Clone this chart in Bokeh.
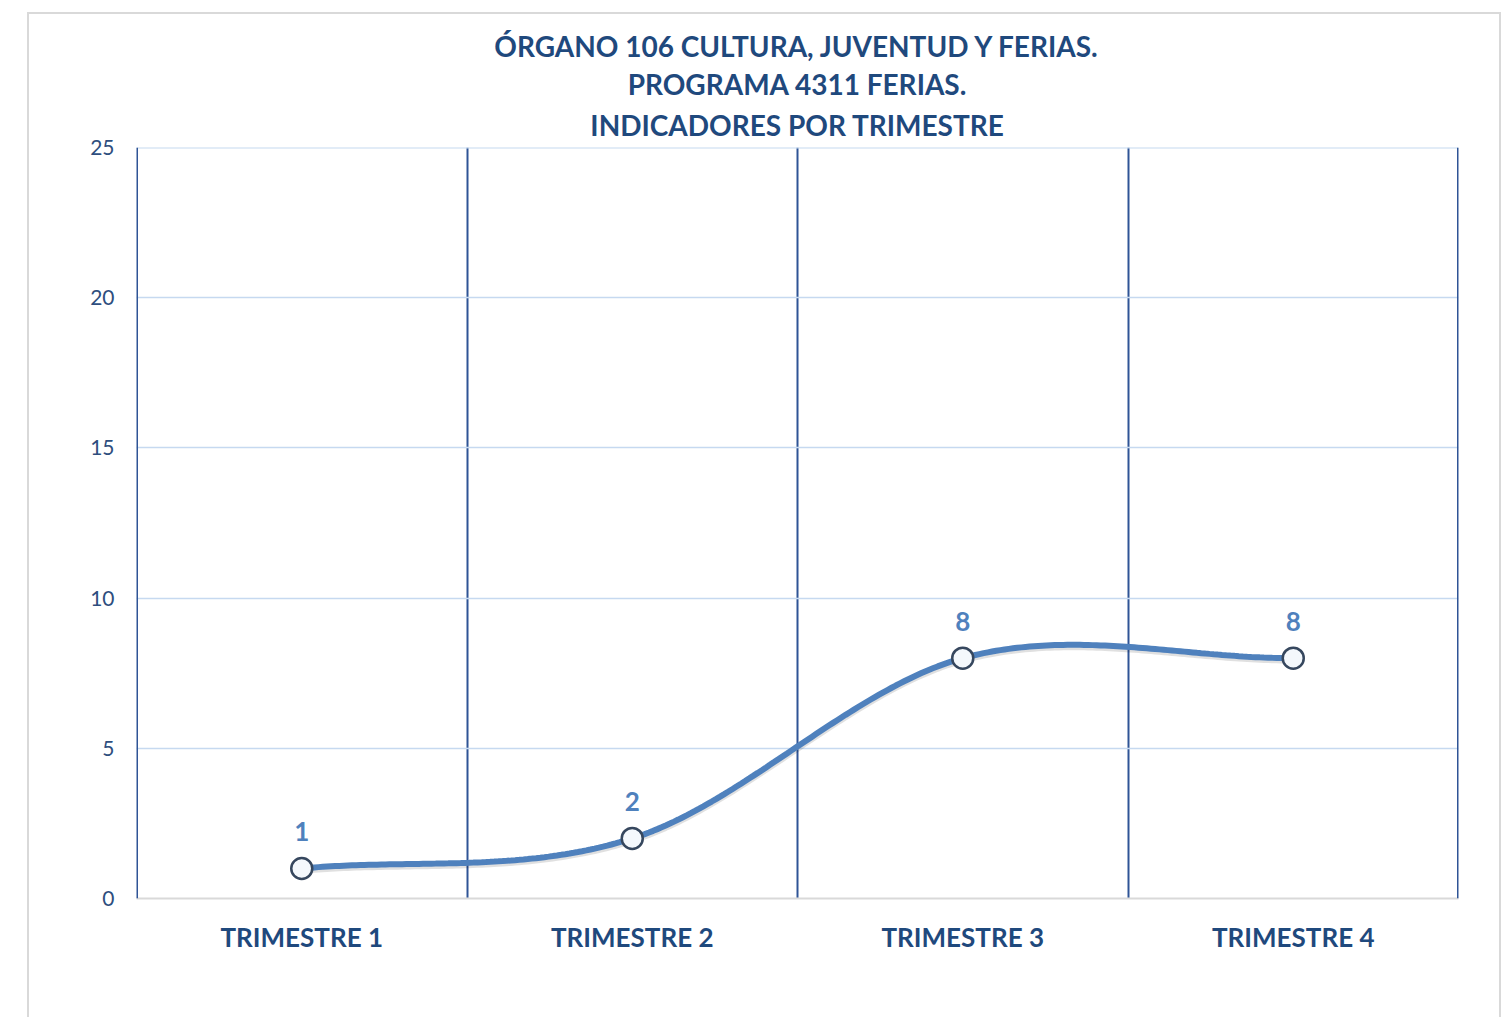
import numpy as np
from bokeh.plotting import figure
from bokeh.models import (Range1d, FixedTicker, LabelSet, ColumnDataSource,
                          Title, Span, InlineStyleSheet)
from bokeh.core.properties import value
from bokeh.embed import file_html
from bokeh.resources import INLINE

# ---- data ----
categories = ["TRIMESTRE 1", "TRIMESTRE 2", "TRIMESTRE 3", "TRIMESTRE 4"]
values = [1, 2, 8, 8]
y_ticks = [0, 5, 10, 15, 20, 25]
title_lines = ["ÓRGANO 106 CULTURA, JUVENTUD Y FERIAS.",
               "PROGRAMA 4311 FERIAS.",
               "INDICADORES POR TRIMESTRE"]

xs = [i + 0.5 for i in range(len(categories))]

# ---- smoothed line (Catmull-Rom as cubic Bezier, Excel-like) ----
P = np.array(list(zip(xs, values)), dtype=float)
n = len(P)
tang = []
for i in range(n):
    if i == 0:
        tang.append((P[1] - P[0]))
    elif i == n - 1:
        tang.append((P[-1] - P[-2]))
    else:
        tang.append((P[i + 1] - P[i - 1]) / 2)
cx, cy = [], []
t = np.linspace(0, 1, 80)
for i in range(n - 1):
    p0 = P[i]
    p3 = P[i + 1]
    p1 = p0 + tang[i] / 3
    p2 = p3 - tang[i + 1] / 3
    b = ((1 - t) ** 3)[:, None] * p0 + (3 * (1 - t) ** 2 * t)[:, None] * p1 \
        + (3 * (1 - t) * t ** 2)[:, None] * p2 + (t ** 3)[:, None] * p3
    cx.extend(b[:, 0].tolist())
    cy.extend(b[:, 1].tolist())

TITLE_COLOR = "#1F497D"
LINE_COLOR = "#4F81BD"
FONT = "Lato"

border_css = InlineStyleSheet(css="""
:host { position: relative; }
:host::after {
  content: ""; position: absolute; left: 27px; top: 12px;
  width: 1474px; height: 1100px; border: 2px solid #D9D9D9;
  pointer-events: none; box-sizing: border-box;
}
""")

p = figure(width=1490, height=1001, frame_width=1322, frame_height=751,
           min_border_left=136, min_border_right=32, min_border_top=147,
           min_border_bottom=103, x_range=Range1d(0, len(categories)),
           y_range=Range1d(0, 25), output_backend="svg", toolbar_location=None,
           background_fill_color="white", border_fill_color="white",
           stylesheets=[border_css])
p.outline_line_color = None

# grids
p.xgrid.ticker = FixedTicker(ticks=list(range(len(categories) + 1)))
p.xgrid.grid_line_color = "#2F5496"
p.xgrid.grid_line_width = 2
p.ygrid.ticker = FixedTicker(ticks=y_ticks)
p.ygrid.grid_line_color = "#C6D9F0"
p.ygrid.grid_line_width = 1.5

# frame edge lines (grid lines at the range bounds are not drawn)
p.add_layout(Span(location=y_ticks[-1], dimension="width",
                  line_color="#C6D9F0", line_width=2))
p.add_layout(Span(location=0, dimension="height",
                  line_color="#2F5496", line_width=3))
p.add_layout(Span(location=len(categories), dimension="height",
                  line_color="#2F5496", line_width=3))

# x axis
p.xaxis.ticker = FixedTicker(ticks=xs)
p.xaxis.major_label_overrides = {x: c for x, c in zip(xs, categories)}
p.xaxis.axis_line_color = "#D9D9D9"
p.xaxis.axis_line_width = 2
p.xaxis.major_tick_line_color = None
p.xaxis.minor_tick_line_color = None
p.xaxis.major_tick_out = 0
p.xaxis.major_label_standoff = 22
p.xaxis.major_label_text_font = FONT
p.xaxis.major_label_text_font_style = "bold"
p.xaxis.major_label_text_font_size = "26px"
p.xaxis.major_label_text_color = TITLE_COLOR

# y axis
p.yaxis.ticker = FixedTicker(ticks=y_ticks)
p.yaxis.axis_line_color = None
p.yaxis.major_tick_line_color = None
p.yaxis.minor_tick_line_color = None
p.yaxis.major_tick_out = 0
p.yaxis.major_label_standoff = 22
p.yaxis.major_label_text_font = FONT
p.yaxis.major_label_text_font_size = "21px"
p.yaxis.major_label_text_color = "#2E4E7E"

# shadow + line
p.line(cx, [y - 0.08 for y in cy], line_color="#000000",
       line_alpha=0.12, line_width=6)
p.line(cx, cy, line_color=LINE_COLOR, line_width=6, line_cap="round")

src = ColumnDataSource(dict(x=xs, y=values, lab=[str(v) for v in values]))
p.scatter("x", "y", source=src, size=21, fill_color="#F4F8FC",
          line_color="#36475E", line_width=2.5)

labels = LabelSet(x="x", y="y", text="lab", source=src, y_offset=37,
                  text_align="center", text_baseline="middle",
                  text_font=value(FONT), text_font_style="bold",
                  text_font_size="26px", text_color=LINE_COLOR)
p.add_layout(labels)

# titles (added nearest-frame first)
standoffs = [3, 0, 11]
for line, so in reversed(list(zip(title_lines, standoffs))):
    p.add_layout(Title(text=line, align="center", standoff=so,
                       text_font=FONT, text_font_style="bold",
                       text_font_size="28px", text_color=TITLE_COLOR), "above")

open("out.html", "w").write(file_html(p, INLINE))
